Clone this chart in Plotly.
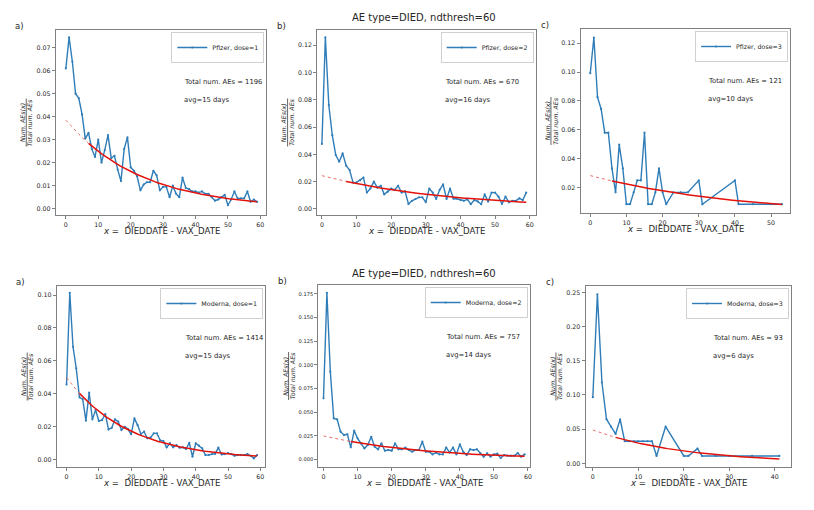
import numpy as np
import plotly.graph_objects as go

W, H = 814, 510

# ---------------- data ----------------
days_pfizer_d1 = list(range(60))
frac_pfizer_d1 = [0.061, 0.0745, 0.064, 0.050, 0.048, 0.041, 0.0305, 0.033, 0.026, 0.0225,
                  0.030, 0.020, 0.0255, 0.032, 0.022, 0.023, 0.017, 0.012, 0.026, 0.031,
                  0.018, 0.0165, 0.014, 0.008, 0.0105, 0.0115, 0.0115, 0.0165, 0.0145, 0.008,
                  0.0095, 0.0095, 0.005, 0.010, 0.0065, 0.005, 0.0135, 0.009, 0.0085, 0.0075,
                  0.0075, 0.007, 0.0075, 0.0065, 0.0065, 0.005, 0.0035, 0.004, 0.005, 0.006,
                  0.0015, 0.004, 0.0075, 0.0045, 0.0045, 0.0045, 0.0075, 0.003, 0.004, 0.003]

days_pfizer_d2 = list(range(60))
frac_pfizer_d2 = [0.0476, 0.1256, 0.076, 0.054, 0.0395, 0.0346, 0.0407, 0.0317, 0.0285, 0.0193,
                  0.0195, 0.021, 0.023, 0.012, 0.015, 0.020, 0.0156, 0.017, 0.0107, 0.0127,
                  0.015, 0.014, 0.017, 0.012, 0.013, 0.0037, 0.006, 0.0073, 0.0085, 0.0085,
                  0.005, 0.015, 0.012, 0.0073, 0.014, 0.018, 0.0073, 0.015, 0.0075, 0.0075,
                  0.0065, 0.006, 0.007, 0.0035, 0.0065, 0.0055, 0.0035, 0.0107, 0.0054, 0.012,
                  0.012, 0.009, 0.0037, 0.009, 0.0049, 0.006, 0.006, 0.0078, 0.0065, 0.012]

days_pfizer_d3 = [0, 1, 2, 3, 4, 5, 6, 7, 8, 9, 10, 11, 12, 13, 14, 15, 16, 17, 18, 19, 20, 21,
                  23, 25, 27, 30, 31, 40, 41, 45, 50, 53]
frac_pfizer_d3 = [0.0992, 0.124, 0.0826, 0.0744, 0.0579, 0.0579, 0.0331, 0.0165, 0.0496, 0.0331,
                  0.00826, 0.00826, 0.0165, 0.0248, 0.0248, 0.0579, 0.00826, 0.00826, 0.0165, 0.0331,
                  0.0165, 0.00826, 0.0165, 0.0165, 0.0165, 0.0248, 0.00826, 0.0248, 0.00826, 0.00826,
                  0.00826, 0.00826]

days_moderna_d1 = list(range(60))
frac_moderna_d1 = [0.0457, 0.1014, 0.0686, 0.0555, 0.0379, 0.0368, 0.0237, 0.0407, 0.0245, 0.0302,
                   0.0235, 0.0241, 0.0277, 0.0184, 0.0194, 0.0245, 0.0231, 0.018, 0.020, 0.0186,
                   0.0154, 0.0251, 0.021, 0.0156, 0.017, 0.013, 0.0134, 0.016, 0.016, 0.0117,
                   0.0113, 0.0075, 0.010, 0.0075, 0.0089, 0.0073, 0.0075, 0.0065, 0.0103, 0.0018,
                   0.010, 0.0085, 0.0069, 0.0028, 0.0028, 0.0034, 0.0036, 0.0073, 0.0032, 0.0034,
                   0.004, 0.0034, 0.0024, 0.0028, 0.0028, 0.0028, 0.0034, 0.0024, 0.0008, 0.0028]

days_moderna_d2 = list(range(60))
frac_moderna_d2 = [0.0647, 0.176, 0.0928, 0.0436, 0.0425, 0.0295, 0.026, 0.0267, 0.013, 0.0306,
                   0.0225, 0.0172, 0.012, 0.0155, 0.0242, 0.0137, 0.0109, 0.0172, 0.0095, 0.0102,
                   0.0095, 0.0172, 0.0109, 0.0109, 0.0127, 0.0102, 0.0084, 0.0102, 0.0102, 0.019,
                   0.0084, 0.0084, 0.0056, 0.0074, 0.0056, 0.0056, 0.0127, 0.0077, 0.0127, 0.0056,
                   0.0162, 0.0084, 0.0049, 0.0109, 0.0102, 0.0109, 0.0067, 0.0032, 0.0067, 0.0032,
                   0.0056, 0.0063, 0.0018, 0.0049, 0.0042, 0.0042, 0.0042, 0.007, 0.0032, 0.0056]

days_moderna_d3 = [0, 1, 2, 3, 4, 5, 6, 7, 8, 9, 10, 11, 12, 13, 14, 16, 20, 21, 23, 24, 27, 30, 35, 41]
frac_moderna_d3 = [0.0968, 0.2473, 0.1183, 0.0645, 0.0538, 0.043, 0.0645, 0.0323, 0.0323, 0.0323,
                   0.0323, 0.0323, 0.0323, 0.0323, 0.0108, 0.0538, 0.0108, 0.0108, 0.0215, 0.0108,
                   0.0108, 0.0108, 0.0108, 0.0108]

# exponential fit parameters (amplitude, decay rate, start of solid part, last day)
fit_amp = [0.0385, 0.0244, 0.0281, 0.0498, 0.025, 0.0487]
fit_rate = [0.0433, 0.0272, 0.0237, 0.0529, 0.0333, 0.0499]
fit_solid_from = [7, 7, 6, 4, 8, 5]
fit_last_day = [59, 59, 53, 59, 59, 41]

legend_labels = ["Pfizer, dose=1", "Pfizer, dose=2", "Pfizer, dose=3",
                 "Moderna, dose=1", "Moderna, dose=2", "Moderna, dose=3"]
total_aes = [1196, 670, 121, 1414, 757, 93]
avg_days = [15, 16, 10, 15, 14, 6]
panel_letters = ["a)", "b)", "c)", "a)", "b)", "c)"]
title_text = "AE type=DIED, ndthresh=60"

# ticks
x_ticks = [[0, 10, 20, 30, 40, 50, 60], [0, 10, 20, 30, 40, 50, 60], [0, 10, 20, 30, 40, 50],
           [0, 10, 20, 30, 40, 50, 60], [0, 10, 20, 30, 40, 50, 60], [0, 10, 20, 30, 40]]
y_ticks = [[0.00, 0.01, 0.02, 0.03, 0.04, 0.05, 0.06, 0.07],
           [0.00, 0.02, 0.04, 0.06, 0.08, 0.10, 0.12],
           [0.02, 0.04, 0.06, 0.08, 0.10, 0.12],
           [0.00, 0.02, 0.04, 0.06, 0.08, 0.10],
           [0.000, 0.025, 0.050, 0.075, 0.100, 0.125, 0.150, 0.175],
           [0.00, 0.05, 0.10, 0.15, 0.20, 0.25]]
y_fmt = [".2f", ".2f", ".2f", ".2f", ".3f", ".2f"]

series_days = [days_pfizer_d1, days_pfizer_d2, days_pfizer_d3,
               days_moderna_d1, days_moderna_d2, days_moderna_d3]
series_vals = [frac_pfizer_d1, frac_pfizer_d2, frac_pfizer_d3,
               frac_moderna_d1, frac_moderna_d2, frac_moderna_d3]

# ---------------- layout geometry (pixels) ----------------
boxes = [(56, 267, 30, 215), (318, 537, 30, 215), (582, 792, 29, 213),
         (57, 266, 286, 467), (319, 531, 285, 467), (587, 793, 286, 467)]
x_ranges = [(-3.08, 61.85), (-1.35, 61.73), (-2.68, 55.24),
            (-3.0, 61.55), (-1.55, 60.5), (-1.6, 43.57)]
y_ranges = [(-0.00274, 0.0777), (-0.0044, 0.131), (0.00215, 0.1299),
            (-0.00443, 0.1055), (-0.0077, 0.1842), (-0.0054, 0.2595)]
ytick_size = [6.3, 6.3, 6.3, 6.3, 5.1, 6.3]

BLUE = "#2f7db8"
RED = "#e3120b"
FRAME = "#808080"
TXT = "#262626"
FONT = "DejaVu Sans"

def px(x):
    return x / W

def py(y):
    return 1 - y / H

fig = go.Figure()
annotations = []
shapes = []
layout = dict(width=W, height=H, margin=dict(l=0, r=0, t=0, b=0),
              paper_bgcolor="white", plot_bgcolor="white",
              font=dict(family=FONT, color=TXT), showlegend=True)

for i in range(6):
    n = i + 1
    xa = "x" if n == 1 else f"x{n}"
    ya = "y" if n == 1 else f"y{n}"
    lg = "legend" if n == 1 else f"legend{n}"
    l, r, t, b = boxes[i]

    fig.add_trace(go.Scatter(x=series_days[i], y=series_vals[i], mode="lines+markers",
                             line=dict(color=BLUE, width=1.4), marker=dict(size=2.2, color=BLUE),
                             name=legend_labels[i], xaxis=xa, yaxis=ya, legend=lg, showlegend=True))
    xd = np.linspace(0, fit_solid_from[i], 30)
    fig.add_trace(go.Scatter(x=xd, y=fit_amp[i] * np.exp(-fit_rate[i] * xd), mode="lines",
                             line=dict(color="#e8605a", width=0.9, dash="dot"),
                             xaxis=xa, yaxis=ya, showlegend=False, hoverinfo="skip"))
    xs = np.linspace(fit_solid_from[i], fit_last_day[i], 80)
    fig.add_trace(go.Scatter(x=xs, y=fit_amp[i] * np.exp(-fit_rate[i] * xs), mode="lines",
                             line=dict(color=RED, width=1.5),
                             xaxis=xa, yaxis=ya, showlegend=False, hoverinfo="skip"))

    axis_common = dict(showline=True, mirror=True, linecolor=FRAME, linewidth=1,
                       ticks="outside", ticklen=3, tickwidth=1, tickcolor=FRAME,
                       showgrid=False, zeroline=False)
    layout["xaxis" if n == 1 else f"xaxis{n}"] = dict(
        domain=[px(l), px(r)], range=list(x_ranges[i]), anchor=ya,
        tickvals=x_ticks[i], tickfont=dict(size=6.3, color=TXT, family=FONT), **axis_common)
    layout["yaxis" if n == 1 else f"yaxis{n}"] = dict(
        domain=[py(b), py(t)], range=list(y_ranges[i]), anchor=xa,
        tickvals=y_ticks[i], tickformat=y_fmt[i],
        tickfont=dict(size=ytick_size[i], color=TXT, family=FONT), **axis_common)
    layout[lg] = dict(x=px(r - 2), y=py(t + 2), xanchor="right", yanchor="top",
                      bgcolor="white", bordercolor="#d0d0d0", borderwidth=1,
                      font=dict(size=6.3, color=TXT, family=FONT),
                      itemwidth=30, tracegroupgap=0)

    # text annotations
    annotations.append(dict(xref="paper", yref="paper", x=px(l + 126), y=py(t + 52),
                            xanchor="left", yanchor="middle", showarrow=False,
                            text=f"Total num. AEs = {total_aes[i]}",
                            font=dict(size=6.8, color=TXT, family=FONT)))
    annotations.append(dict(xref="paper", yref="paper", x=px(l + 126), y=py(t + 70),
                            xanchor="left", yanchor="middle", showarrow=False,
                            text=f"avg={avg_days[i]} days",
                            font=dict(size=6.8, color=TXT, family=FONT)))
    # x label
    annotations.append(dict(xref="paper", yref="paper", x=px((l + r) / 2 + 0.5), y=py(b + 16),
                            xanchor="center", yanchor="middle", showarrow=False,
                            text="<i>x</i> =\u00a0 DIEDDATE - VAX_DATE",
                            font=dict(size=8.6, color=TXT, family=FONT)))
    # y label as a fraction
    yc = (t + b) / 2
    annotations.append(dict(xref="paper", yref="paper", x=px(l - 33.5), y=py(yc),
                            xanchor="center", yanchor="middle", showarrow=False, textangle=-90,
                            text="<i>Num. AEs(x)</i>",
                            font=dict(size=6.3, color=TXT, family=FONT)))
    annotations.append(dict(xref="paper", yref="paper", x=px(l - 26), y=py(yc),
                            xanchor="center", yanchor="middle", showarrow=False, textangle=-90,
                            text="<i>Total num. AEs</i>",
                            font=dict(size=6.3, color=TXT, family=FONT)))
    shapes.append(dict(type="line", xref="paper", yref="paper",
                       x0=px(l - 29.7), x1=px(l - 29.7), y0=py(yc - 24), y1=py(yc + 24),
                       line=dict(color=TXT, width=0.7)))
    # panel letter
    annotations.append(dict(xref="paper", yref="paper", x=px(l - 36), y=py(t - 4),
                            xanchor="center", yanchor="middle", showarrow=False,
                            text=panel_letters[i], font=dict(size=8.5, color=TXT, family=FONT)))

# titles above the middle panels
for (l, r, t, b) in (boxes[1], boxes[4]):
    annotations.append(dict(xref="paper", yref="paper", x=px(425), y=py(t - 12),
                            xanchor="center", yanchor="middle", showarrow=False,
                            text=title_text, font=dict(size=10, color=TXT, family=FONT)))

layout["annotations"] = annotations
layout["shapes"] = shapes
fig.update_layout(**layout)

fig.write_html("out.html", config={"displayModeBar": False},
               post_script="document.body.style.margin='0px';")
